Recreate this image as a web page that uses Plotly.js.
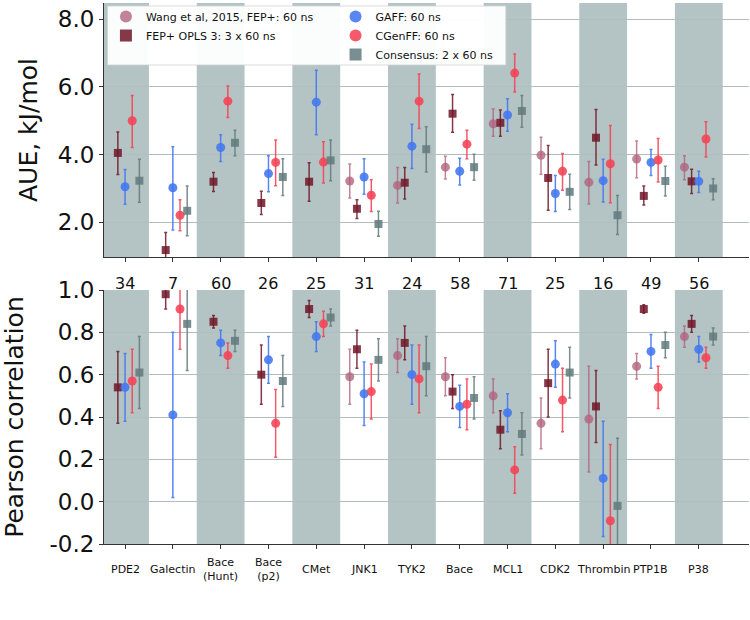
<!DOCTYPE html>
<html>
<head>
<meta charset="utf-8">
<script src="https://cdn.plot.ly/plotly-3.0.1.min.js"></script>
<style>html,body{margin:0;padding:0;background:#fff;}#chart{width:750px;height:620px;}</style>
</head>
<body>
<div id="chart"></div>
<script>
// ---------- data ----------
const categories = ['PDE2','Galectin','Bace (Hunt)','Bace (p2)','CMet','JNK1','TYK2','Bace','MCL1','CDK2','Thrombin','PTP1B','P38'];
const ligandCounts = [34,7,60,26,25,31,24,58,71,25,16,49,56];

const seriesNames = ['Wang et al, 2015, FEP+: 60 ns','FEP+ OPLS 3: 3 x 60 ns','GAFF: 60 ns','CGenFF: 60 ns','Consensus: 2 x 60 ns'];

// AUE (kJ/mol), value / lower / upper
const wangAUE   = [null,null,null,null,null,3.22,3.09,3.63,4.91,3.98,3.18,3.87,3.63];
const wangAUElo = [null,null,null,null,null,2.72,2.57,3.28,4.54,3.42,2.54,3.32,3.26];
const wangAUEhi = [null,null,null,null,null,3.72,3.62,3.95,5.35,4.51,3.80,4.40,3.97];

const oplsAUE   = [4.05,1.18,3.20,2.57,3.20,2.40,3.17,5.21,4.94,3.31,4.50,2.78,3.21];
const oplsAUElo = [3.41,0.70,2.91,2.23,2.62,2.11,2.69,4.66,4.54,2.36,3.69,2.51,2.85];
const oplsAUEhi = [4.67,1.70,3.47,2.92,3.76,2.67,3.62,5.78,5.32,4.27,5.33,3.07,3.57];

const gaffAUE   = [3.05,3.02,4.21,3.44,5.55,3.34,4.25,3.51,5.17,2.85,3.23,3.77,3.21];
const gaffAUElo = [2.53,1.77,3.80,2.90,4.59,2.83,3.59,3.10,4.69,2.32,2.60,3.38,2.88];
const gaffAUEhi = [3.56,4.23,4.59,3.97,6.49,3.88,4.90,3.89,5.65,3.38,3.86,4.15,3.51];

const cgenAUE   = [5.00,2.21,5.58,3.77,3.78,2.80,5.58,4.31,6.41,3.51,3.73,3.84,4.46];
const cgenAUElo = [4.21,1.75,5.10,3.08,3.16,2.32,4.77,3.88,5.85,2.95,2.58,3.19,3.93];
const cgenAUEhi = [5.75,2.67,6.03,4.43,4.38,3.26,6.38,4.72,6.97,4.03,4.86,4.48,4.97];

const consAUE   = [3.23,2.34,4.35,3.34,3.83,1.95,4.16,3.63,5.29,2.90,2.21,3.22,3.00];
const consAUElo = [2.59,1.60,3.97,2.79,3.23,1.59,3.49,3.24,4.81,2.38,1.64,2.78,2.67];
const consAUEhi = [3.86,3.07,4.72,3.88,4.43,2.33,4.82,4.01,5.75,3.42,2.79,3.66,3.29];

// Pearson correlation, value / lower / upper
const wangR   = [null,null,null,null,null,0.59,0.69,0.59,0.50,0.37,0.39,0.64,0.78];
const wangRlo = [null,null,null,null,null,0.46,0.61,0.50,0.42,0.25,0.14,0.58,0.73];
const wangRhi = [null,null,null,null,null,0.72,0.77,0.68,0.58,0.49,0.64,0.70,0.83];

const oplsR   = [0.54,0.98,0.85,0.60,0.91,0.72,0.75,0.52,0.34,0.56,0.45,0.91,0.84];
const oplsRlo = [0.37,0.91,0.82,0.46,0.87,0.63,0.67,0.44,0.25,0.40,0.28,0.89,0.80];
const oplsRhi = [0.71,1.01,0.88,0.74,0.95,0.81,0.83,0.60,0.43,0.72,0.62,0.93,0.88];

const gaffR   = [0.54,0.41,0.75,0.67,0.78,0.51,0.60,0.45,0.42,0.65,0.11,0.71,0.72];
const gaffRlo = [0.38,0.02,0.69,0.56,0.71,0.36,0.46,0.35,0.33,0.54,-0.165,0.63,0.66];
const gaffRhi = [0.70,0.80,0.81,0.78,0.85,0.66,0.74,0.55,0.51,0.76,0.38,0.79,0.78];

const cgenR   = [0.57,0.91,0.69,0.37,0.84,0.52,0.58,0.46,0.15,0.48,-0.09,0.54,0.68];
const cgenRlo = [0.42,0.72,0.63,0.21,0.78,0.39,0.42,0.34,0.04,0.33,-0.30,0.44,0.63];
const cgenRhi = [0.72,1.05,0.75,0.53,0.90,0.65,0.74,0.58,0.26,0.63,0.27,0.64,0.73];

const consR   = [0.61,0.84,0.76,0.57,0.87,0.67,0.64,0.49,0.32,0.61,-0.02,0.74,0.78];
const consRlo = [0.44,0.62,0.71,0.45,0.83,0.57,0.50,0.39,0.22,0.49,-0.30,0.68,0.74];
const consRhi = [0.78,1.05,0.81,0.69,0.91,0.77,0.78,0.59,0.42,0.73,0.30,0.80,0.82];

const aueTickVals = [2,4,6,8];
const aueTickText = ['2.0','4.0','6.0','8.0'];
const rTickVals = [-0.2,0,0.2,0.4,0.6,0.8,1.0];
const rTickText = ['-0.2','0.0','0.2','0.4','0.6','0.8','1.0'];

// ---------- styling ----------
const FONT = 'DejaVu Sans, Liberation Sans, sans-serif';
const styles = [
  {off:-0.30, sym:'circle', size:9, color:'rgba(176,98,124,0.78)', legend:'legend'},
  {off:-0.15, sym:'square', size:8, color:'rgba(112,22,40,0.85)', legend:'legend'},
  {off: 0.00, sym:'circle', size:9, color:'rgba(66,118,240,0.88)', legend:'legend2'},
  {off: 0.15, sym:'circle', size:9, color:'rgba(245,66,84,0.88)', legend:'legend2'},
  {off: 0.30, sym:'square', size:8, color:'rgba(98,122,124,0.85)', legend:'legend2'}
];
const aueSets = [[wangAUE,wangAUElo,wangAUEhi],[oplsAUE,oplsAUElo,oplsAUEhi],[gaffAUE,gaffAUElo,gaffAUEhi],[cgenAUE,cgenAUElo,cgenAUEhi],[consAUE,consAUElo,consAUEhi]];
const rSets = [[wangR,wangRlo,wangRhi],[oplsR,oplsRlo,oplsRhi],[gaffR,gaffRlo,gaffRhi],[cgenR,cgenRlo,cgenRhi],[consR,consRlo,consRhi]];

function mk(set, st, name, xa, ya, showleg) {
  const [v, lo, hi] = set;
  return {
    type:'scatter', mode:'markers', name:name,
    x: categories.map((c,i)=> i + st.off),
    y: v,
    xaxis: xa, yaxis: ya,
    showlegend: showleg, legend: st.legend,
    marker:{symbol:st.sym, size:st.size, color:st.color, line:{width:0}},
    error_y:{type:'data', symmetric:false,
      array: v.map((d,i)=> d==null?null:hi[i]-d),
      arrayminus: v.map((d,i)=> d==null?null:d-lo[i]),
      color: st.color, thickness:1.5, width:1.5},
    hoverinfo:'skip'
  };
}
const traces = [];
styles.forEach((st,k)=>{ traces.push(mk(aueSets[k], st, seriesNames[k], 'x', 'y', true)); });
styles.forEach((st,k)=>{ traces.push(mk(rSets[k], st, seriesNames[k], 'x2', 'y2', false)); });

// bands on even categories
const BAND = '#b4c3c3';
const shapes = [];
categories.forEach((c,i)=>{
  if (i % 2 === 0) {
    shapes.push({type:'rect', xref:'x', yref:'y domain', x0:i-0.5, x1:i+0.5, y0:0, y1:1, fillcolor:BAND, line:{width:0}, layer:'below'});
    shapes.push({type:'rect', xref:'x2', yref:'y2 domain', x0:i-0.5, x1:i+0.5, y0:0, y1:1, fillcolor:BAND, line:{width:0}, layer:'below'});
  }
});
// legend box
shapes.push({type:'rect', xref:'paper', yref:'paper', x0:0.0054, x1:0.623, y0:0.8854, y1:0.9945,
  fillcolor:'rgba(255,255,255,0.95)', line:{color:'rgba(210,210,210,1)', width:0.8}, layer:'above'});

const annotations = [];
categories.forEach((c,i)=>{
  annotations.push({xref:'x2', yref:'paper', x:i, y:0.4824, text:String(ligandCounts[i]), showarrow:false,
    xanchor:'center', yanchor:'middle', font:{family:FONT, size:16, color:'#111'}});
  // category label under its tick (long names broken at the space so neighbours do not collide)
  const label = c.length > 8 ? c.replace(' ', '<br>') : c;
  annotations.push({xref:'x2', yref:'paper', x:i, y:-0.048, text:label, showarrow:false,
    xanchor:'center', yanchor:'middle', align:'center', font:{family:FONT, size:11, color:'#111'}});
});

const XRANGE = [-0.44,13.05];
const xcommon = {range:XRANGE, showgrid:false, zeroline:false, showline:true, linecolor:'#333', linewidth:1,
  ticks:'outside', ticklen:4, tickcolor:'#333', tickvals:categories.map((c,i)=>i), showticklabels:false, fixedrange:true};
const ycommon = {showgrid:true, gridcolor:'#b0bebe', gridwidth:1, zeroline:false, showline:true, linecolor:'#333', linewidth:1,
  ticks:'outside', ticklen:4, tickcolor:'#333', tickfont:{family:FONT, size:23, color:'#111'}, fixedrange:true};

const layout = {
  width:750, height:620,
  margin:{l:104, r:1, t:3, b:76},
  paper_bgcolor:'#fff', plot_bgcolor:'#fff',
  font:{family:FONT, color:'#111'},
  xaxis: Object.assign({}, xcommon, {anchor:'y'}),
  xaxis2: Object.assign({}, xcommon, {anchor:'y2'}),
  yaxis: Object.assign({}, ycommon, {domain:[0.5305,1], range:[0.975,8.48], tickvals:aueTickVals, ticktext:aueTickText,
    title:{text:'AUE, kJ/mol', font:{family:FONT, size:25, color:'#111'}, standoff:13}}),
  yaxis2: Object.assign({}, ycommon, {domain:[0,0.4695], range:[-0.2,1.0], tickvals:rTickVals, ticktext:rTickText,
    title:{text:'Pearson correlation', font:{family:FONT, size:25, color:'#111'}, standoff:20}}),
  legend:{x:0.003, y:1.0018, xanchor:'left', yanchor:'top', bgcolor:'rgba(0,0,0,0)', borderwidth:0,
    font:{family:FONT, size:11, color:'#111'}, itemsizing:'constant', traceorder:'normal'},
  legend2:{x:0.359, y:1.0018, xanchor:'left', yanchor:'top', bgcolor:'rgba(0,0,0,0)', borderwidth:0,
    font:{family:FONT, size:11, color:'#111'}, itemsizing:'constant', traceorder:'normal'},
  shapes: shapes,
  annotations: annotations,
  showlegend:true,
  hovermode:false
};

Plotly.newPlot('chart', traces, layout, {displayModeBar:false});
</script>
</body>
</html>
